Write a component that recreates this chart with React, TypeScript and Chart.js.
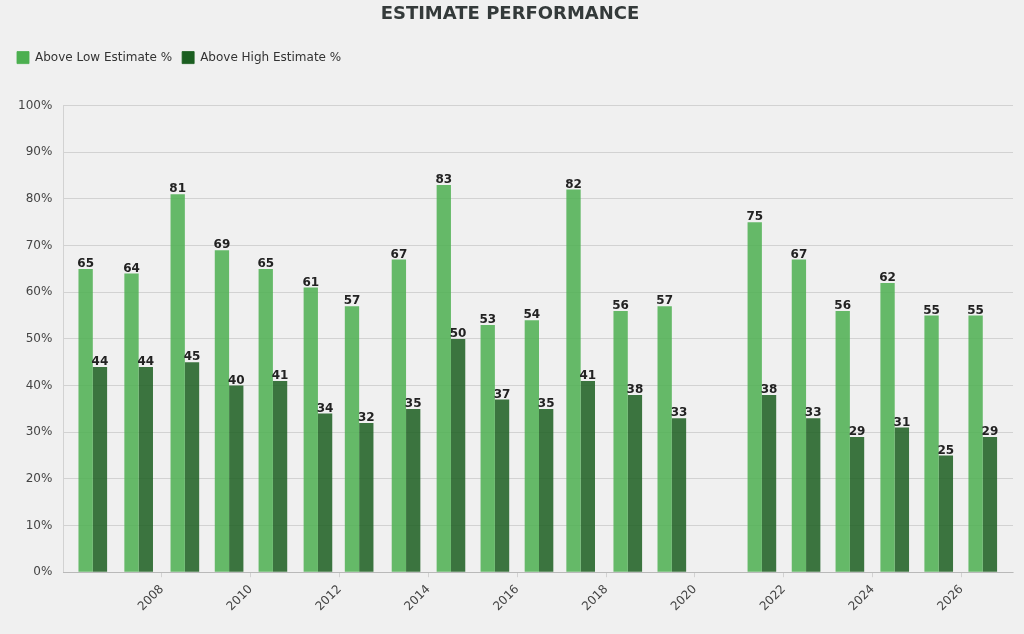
import React, { useEffect, useRef } from "react";
import { Chart, registerables } from "chart.js";

Chart.register(...registerables);

// Report dates for each season (2020 has no report)
const REPORT_DATES = [
  "2006-06-12", "2007-06-24", "2008-07-08", "2009-07-07", "2010-07-02",
  "2011-07-07", "2012-06-10", "2013-07-01", "2014-07-05", "2015-07-01",
  "2016-06-28", "2017-06-06", "2018-06-28", "2019-06-25", "2021-07-05",
  "2022-07-03", "2023-06-28", "2024-07-01", "2025-06-28", "2026-06-25",
];

const ABOVE_LOW = [65, 64, 81, 69, 65, 61, 57, 67, 83, 53, 54, 82, 56, 57, 75, 67, 56, 62, 55, 55];
const ABOVE_HIGH = [44, 44, 45, 40, 41, 34, 32, 35, 50, 37, 35, 41, 38, 33, 38, 33, 29, 31, 25, 29];

const TICK_YEARS = [2008, 2010, 2012, 2014, 2016, 2018, 2020, 2022, 2024, 2026];
const Y_TICKS = [0, 10, 20, 30, 40, 50, 60, 70, 80, 90, 100];

const SERIES_NAMES = ["Above Low Estimate %", "Above High Estimate %"];
const SERIES_COLORS = ["rgb(76,175,80)", "rgb(27,94,32)"];
const SERIES_FILLS = ["rgba(76,175,80,0.85)", "rgba(27,94,32,0.85)"];

const AXIS_MIN = 2005.78;
const AXIS_MAX = 2027.16;

// Convert an ISO date into a fractional year
function toDecimalYear(iso: string): number {
  const [y, m, d] = iso.split("-").map(Number);
  const start = Date.UTC(y, 0, 1);
  const end = Date.UTC(y + 1, 0, 1);
  return y + (Date.UTC(y, m - 1, d) - start) / (end - start);
}

const FONT = "'DejaVu Sans', sans-serif";

const valueLabels = {
  id: "valueLabels",
  afterDatasetsDraw(chart: any) {
    const ctx = chart.ctx;
    ctx.save();
    ctx.font = `bold 12px ${FONT}`;
    ctx.fillStyle = "#222222";
    ctx.textAlign = "center";
    ctx.textBaseline = "alphabetic";
    chart.data.datasets.forEach((ds: any, di: number) => {
      const meta = chart.getDatasetMeta(di);
      meta.data.forEach((bar: any, i: number) => {
        const v = ds.data[i].y;
        ctx.fillText(String(v), bar.x, bar.y - 2);
      });
    });
    ctx.restore();
  },
};

const legendGap = {
  id: "legendGap",
  beforeInit(chart: any) {
    const fit = chart.legend.fit;
    chart.legend.fit = function () {
      fit.bind(chart.legend)();
      this.height += 32;
    };
  },
};

export default function App() {
  const ref = useRef<HTMLCanvasElement | null>(null);

  useEffect(() => {
    if (!ref.current) return;
    const xs = REPORT_DATES.map(toDecimalYear);
    const chart = new Chart(ref.current, {
      type: "bar",
      data: {
        datasets: [ABOVE_LOW, ABOVE_HIGH].map((vals, si) => ({
          label: SERIES_NAMES[si],
          data: vals.map((v, i) => ({ x: xs[i], y: v })),
          backgroundColor: SERIES_FILLS[si],
          borderWidth: 0,
          categoryPercentage: 0.695,
          barPercentage: 1.0,
        })),
      },
      options: {
        animation: false,
        responsive: false,
        layout: { padding: { left: 7, right: 11, top: 0, bottom: 15 } },
        plugins: {
          title: {
            display: true,
            text: "ESTIMATE PERFORMANCE",
            color: "#343a3a",
            font: { family: FONT, size: 18, weight: "bold" },
            padding: { top: 4, bottom: 16 },
          },
          legend: {
            align: "start",
            labels: {
              font: { family: FONT, size: 12 },
              color: "#333333",
              boxWidth: 12,
              boxHeight: 12,
              padding: 10,
              generateLabels: () =>
                SERIES_NAMES.map((name, i) => ({
                  text: name,
                  fillStyle: SERIES_COLORS[i],
                  strokeStyle: SERIES_FILLS[i],
                  lineWidth: 1,
                  hidden: false,
                  datasetIndex: i,
                  fontColor: "#333333",
                })),
            },
          },
          tooltip: { enabled: false },
        },
        scales: {
          x: {
            type: "linear",
            min: AXIS_MIN,
            max: AXIS_MAX,
            offset: false,
            afterBuildTicks: (scale: any) => {
              scale.ticks = TICK_YEARS.map((v) => ({ value: v }));
            },
            ticks: {
              font: { family: FONT, size: 12 },
              color: "#444444",
              maxRotation: 45,
              minRotation: 45,
              padding: 5,
              autoSkip: false,
              callback: (v: any) => String(v),
            },
            grid: {
              display: true,
              drawOnChartArea: false,
              drawTicks: true,
              tickLength: 5,
              offset: false,
              color: "rgba(0,0,0,0.12)",
            },
            border: { display: true, color: "rgba(0,0,0,0.12)" },
          },
          y: {
            min: 0,
            max: 100,
            afterBuildTicks: (scale: any) => {
              scale.ticks = Y_TICKS.map((v) => ({ value: v }));
            },
            ticks: {
              font: { family: FONT, size: 12 },
              color: "#444444",
              padding: 11,
              callback: (v: any) => `${v}%`,
            },
            grid: {
              color: "rgba(0,0,0,0.12)",
              drawTicks: false,
            },
            border: { display: true, color: "rgba(0,0,0,0.12)" },
          },
        },
      },
      plugins: [valueLabels, legendGap],
    });
    return () => chart.destroy();
  }, []);

  return (
    <div
      style={{
        position: "fixed",
        left: 0,
        top: 0,
        width: 1024,
        height: 634,
        background: "#f0f0f0",
      }}
    >
      <canvas ref={ref} width={1024} height={634} style={{ display: "block" }} />
    </div>
  );
}
